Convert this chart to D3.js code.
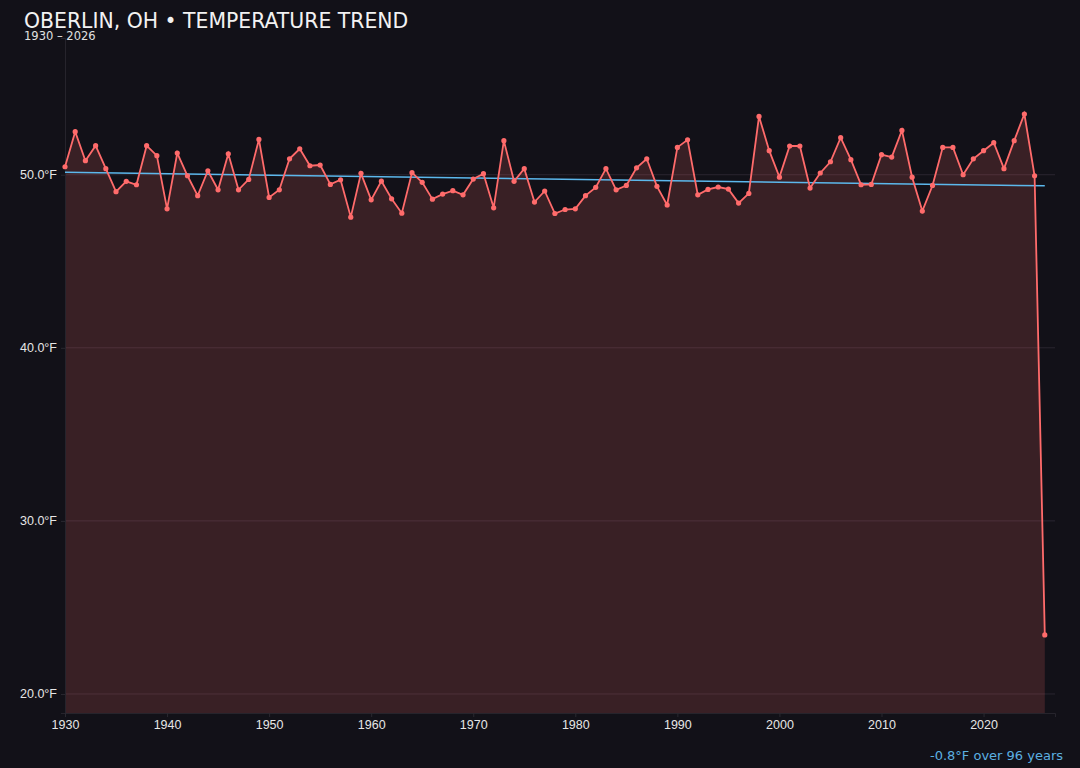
<!DOCTYPE html>
<html lang="en">
<head>
    <meta charset="UTF-8">
    <title>Oberlin, OH - Temperature Trend</title>
    <style>
        html, body {
            margin: 0;
            padding: 0;
            background: #121118;
        }
        svg {
            display: block;
            font-family: "DejaVu Sans", sans-serif;
        }
    </style>
</head>
<body>
    <svg id="chart" width="1080" height="768"></svg>
    <script src="https://d3js.org/d3.v7.min.js"></script>
    <script>
        // yearly mean temperature (°F)
        const years = d3.range(1930, 2027);
        const temps = [
            50.46, 52.49, 50.81, 51.68, 50.35, 49.02, 49.62, 49.42, 51.68, 51.10,
            48.03, 51.25, 49.94, 48.79, 50.23, 49.13, 51.21, 49.13, 49.73, 52.04,
            48.69, 49.13, 50.92, 51.50, 50.52, 50.56, 49.44, 49.71, 47.55, 50.08,
            48.55, 49.63, 48.61, 47.78, 50.12, 49.56, 48.59, 48.88, 49.08, 48.84,
            49.75, 50.06, 48.09, 51.97, 49.62, 50.35, 48.42, 49.06, 47.76, 47.99,
            48.03, 48.79, 49.27, 50.35, 49.13, 49.38, 50.40, 50.92, 49.33, 48.25,
            51.58, 52.02, 48.84, 49.15, 49.29, 49.17, 48.36, 48.92, 53.37, 51.39,
            49.86, 51.66, 51.66, 49.23, 50.10, 50.75, 52.14, 50.87, 49.42, 49.44,
            51.16, 51.02, 52.56, 49.86, 47.90, 49.38, 51.58, 51.58, 50.00, 50.92,
            51.39, 51.85, 50.35, 51.97, 53.51, 49.94, 23.41
        ];

        // linear trend, start and end values
        const trendYears = [1930, 2026];
        const trendTemps = [50.14, 49.36];

        const yTicks = [20, 30, 40, 50];
        const xTicks = [1930, 1940, 1950, 1960, 1970, 1980, 1990, 2000, 2010, 2020];

        const data = years.map((y, i) => ({ year: y, temp: temps[i] }));
        const trend = trendYears.map((y, i) => ({ year: y, temp: trendTemps[i] }));

        const svg = d3.select("#chart");
        const margin = { top: 38, right: 25, bottom: 55, left: 65 };
        const width = 1080 - margin.left - margin.right;
        const height = 768 - margin.top - margin.bottom;

        const x = d3.scaleLinear()
            .domain([1930, 2027])
            .range([0, width]);

        const y = d3.scaleLinear()
            .domain([18.9, 57.9])
            .range([height, 0]);

        const g = svg.append("g")
            .attr("transform", `translate(${margin.left},${margin.top})`);

        // faint gridlines
        g.append("g")
            .selectAll("line")
            .data(yTicks)
            .enter().append("line")
            .attr("x1", 0)
            .attr("x2", width)
            .attr("y1", d => y(d))
            .attr("y2", d => y(d))
            .attr("stroke", "#2a2630")
            .attr("stroke-width", 1);

        // area under the series
        const area = d3.area()
            .x(d => x(d.year))
            .y0(height)
            .y1(d => y(d.temp));

        g.append("path")
            .datum(data)
            .attr("d", area)
            .attr("fill", "#ff6b6b")
            .attr("fill-opacity", 0.17);

        // y axis
        const yAxis = g.append("g")
            .call(d3.axisLeft(y).tickValues(yTicks).tickFormat(d => d3.format(".1f")(d) + "°F").tickSize(4).tickPadding(4));
        yAxis.select(".domain").attr("stroke", "#26242c");
        yAxis.selectAll(".tick line").attr("stroke", "#2a2830");
        yAxis.selectAll("text").attr("fill", "#e6e6e6").style("font-size", "12.5px");

        // x axis
        const xAxis = g.append("g")
            .attr("transform", `translate(0,${height})`)
            .call(d3.axisBottom(x).tickValues(xTicks).tickFormat(d3.format("d")).tickSize(4).tickPadding(3));
        xAxis.select(".domain").attr("stroke", "#26242c");
        xAxis.selectAll(".tick line").attr("stroke", "#2a2830");
        xAxis.selectAll("text").attr("fill", "#e6e6e6").style("font-size", "12.5px");

        // trend line
        const line = d3.line()
            .x(d => x(d.year))
            .y(d => y(d.temp));

        g.append("path")
            .datum(trend)
            .attr("d", line)
            .attr("fill", "none")
            .attr("stroke", "#5cb8ec")
            .attr("stroke-width", 1.5);

        // temperature series
        g.append("path")
            .datum(data)
            .attr("d", line)
            .attr("fill", "none")
            .attr("stroke", "#ff6b6b")
            .attr("stroke-width", 1.8);

        g.selectAll(".dot")
            .data(data)
            .enter().append("circle")
            .attr("class", "dot")
            .attr("cx", d => x(d.year))
            .attr("cy", d => y(d.temp))
            .attr("r", 2.6)
            .attr("fill", "#ff6b6b");

        // titles
        svg.append("text")
            .attr("x", 24)
            .attr("y", 28)
            .attr("fill", "#f2f2f2")
            .style("font-size", "20.4px")
            .text("OBERLIN, OH • TEMPERATURE TREND");

        svg.append("text")
            .attr("x", 24)
            .attr("y", 39.5)
            .attr("fill", "#e0e0e0")
            .style("font-size", "11.5px")
            .text("1930 – 2026");

        // trend annotation
        svg.append("text")
            .attr("x", 1063)
            .attr("y", 760)
            .attr("text-anchor", "end")
            .attr("fill", "#5cb0e0")
            .style("font-size", "13px")
            .text("-0.8°F over 96 years");
    </script>
</body>
</html>
